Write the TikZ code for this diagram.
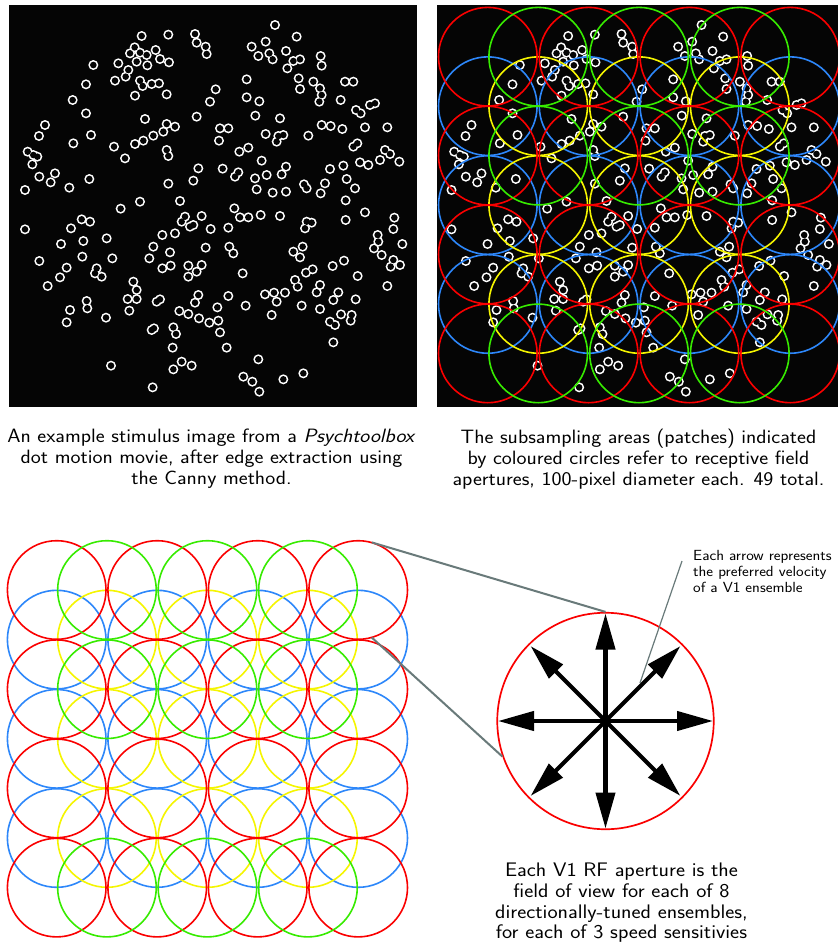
\documentclass[tikz,border=0pt]{standalone}
\usepackage{fontspec}
\setsansfont{Latin Modern Sans}[FakeStretch=1.1]
\usetikzlibrary{arrows.meta,calc}
\definecolor{rfred}{RGB}{250,0,0}
\definecolor{rfgreen}{RGB}{55,235,0}
\definecolor{rfblue}{RGB}{45,135,250}
\definecolor{rfyellow}{RGB}{245,245,0}
\definecolor{linkgray}{RGB}{105,122,122}
\definecolor{panelbg}{RGB}{5,5,5}
\newlength\notewd
\newcommand\notesize{14}
\AtBeginDocument{%
  \settowidth\notewd{\fontsize{14}{16}\selectfont\sffamily Each arrow represents}%
  \pgfmathsetmacro\notesizetmp{14*144/\notewd}%
  \xdef\notesize{\notesizetmp}}
\newcommand\dotlist{825/75, 425/108, 505/104, 585/102, 590/128, 617/140, 620/162, 890/110, 797/125, 755/140, 775/168, 808/160, 818/178, 858/153, 880/183, 900/178, 862/205, 962/168, 965/197, 404/142, 390/160, 420/158, 440/165, 467/150, 480/177, 507/187, 355/190, 410/185, 442/196, 280/195, 385/210, 377/230, 345/242, 420/242, 428/258, 455/252, 477/250, 500/283, 405/287, 258/253, 740/238, 896/235, 900/267, 940/245, 960/265, 965/285, 958/305, 1035/245, 1060/245, 647/268, 630/305, 740/292, 778/304, 218/300, 1022/300, 1068/330, 1082/340, 1110/315, 1125/310, 258/340, 590/350, 766/347, 840/355, 435/357, 135/375, 117/408, 965/375, 992/378, 1027/387, 1095/382, 1162/382, 660/385, 685/385, 657/422, 500/372, 525/380, 490/395, 460/407, 430/422, 405/432, 273/405, 220/430, 797/402, 835/408, 850/405, 830/425, 925/407, 342/440, 375/475, 83/455, 100/465, 112/470, 97/493, 1060/440, 1072/430, 718/455, 745/443, 500/450, 505/468, 1155/450, 1170/462, 1140/480, 1198/485, 1080/487, 1105/495, 785/482, 595/505, 668/506, 715/517, 705/530, 858/500, 845/523, 990/507, 1030/497, 1040/537, 118/530, 165/520, 152/547, 268/537, 208/563, 75/570, 505/551, 580/542, 765/535, 800/525, 770/568, 818/578, 858/575, 912/553, 920/565, 975/550, 962/580, 1065/565, 1037/601, 540/603, 420/605, 362/626, 703/625, 720/652, 745/652, 782/645, 840/648, 605/648, 555/650, 545/665, 570/680, 580/675, 632/687, 685/683, 1095/637, 1037/660, 1183/653, 1180/687, 245/658, 270/665, 213/685, 75/688, 920/665, 935/668, 915/685, 487/705, 525/700, 320/715, 183/732, 250/723, 1133/705, 1135/725, 1122/745, 1145/765, 1207/732, 460/740, 448/775, 510/757, 617/743, 688/740, 700/760, 908/740, 880/755, 900/772, 118/783, 247/770, 337/775, 1180/780, 1200/795, 1172/800, 200/803, 180/832, 285/820, 305/830, 290/805, 487/805, 512/797, 565/797, 605/795, 590/815, 565/830, 728/820, 998/798, 1032/782, 1073/828, 918/818, 938/808, 885/840, 893/860, 960/855, 950/877, 1015/877, 1000/900, 1162/858, 143/858, 400/845, 410/870, 383/897, 410/897, 388/932, 260/903, 262/925, 480/898, 470/905, 595/885, 585/908, 685/888, 795/883, 822/878, 855/878, 830/905, 1067/898, 905/917, 960/927, 210/930, 200/967, 318/953, 737/917, 652/922, 538/933, 565/942, 597/955, 628/968, 655/962, 660/997, 815/945, 990/965, 1005/975, 1023/943, 1055/945, 1052/962, 455/990, 462/985, 520/982, 528/1002, 518/1043, 680/1043, 1000/1027, 333/1097, 545/1085, 575/1097, 520/1108, 775/1078, 730/1130, 757/1145, 778/1175, 850/1138, 910/1120, 458/1162}
\newcommand\drawdots[2]{%
  \foreach \dx/\dy in \dotlist {\fill[white] ({#1+\dx/3},{#2+\dy/3}) circle[radius=5pt];}
  \foreach \dx/\dy in \dotlist {\fill[panelbg] ({#1+\dx/3},{#2+\dy/3}) circle[radius=3.3pt];}
}
\newcommand\rfgrid[4]{%
  \foreach \j in {1,3,5} {\foreach \i in {0,...,3} {\draw[rfline,rfblue] ({#1+\i*#3},{#2+\j*#4}) circle[radius=49.3pt];}}
  \foreach \j in {1,3,5} {\foreach \i in {0,1,2} {\draw[rfline,rfyellow] ({#1+(\i+0.5)*#3},{#2+\j*#4}) circle[radius=49.3pt];}}
  \foreach \j in {0,2,4,6} {\foreach \i in {0,...,3} {\draw[rfline,rfred] ({#1+\i*#3},{#2+\j*#4}) circle[radius=49.3pt];}}
  \foreach \j in {0,2,6} {\foreach \i in {0,1,2} {\draw[rfline,rfgreen] ({#1+(\i+0.5)*#3},{#2+\j*#4}) circle[radius=49.3pt];}}
}
\tikzset{
  rfline/.style={line width=1.6pt},
  caption/.style={font=\fontsize{19.3}{21}\selectfont\sffamily, align=center, inner sep=0pt},
  bcaption/.style={font=\fontsize{19.6}{20.7}\selectfont\sffamily, align=center, inner sep=0pt},
  smallnote/.style={font=\fontsize{\notesize}{16}\selectfont\sffamily, align=left, inner sep=0pt},
  link/.style={draw=linkgray, line width=2pt},
  thinlink/.style={draw=linkgray, line width=1.2pt},
  vel/.style={line width=4.2pt, -{Triangle[length=36pt,width=19pt]}},
}
\begin{document}
\begin{tikzpicture}[x=1pt,y=-1pt]
\useasboundingbox (0,0) rectangle (838,943);
\fill[white] (0,0) rectangle (838,943);
% top-left stimulus panel
\fill[panelbg] (9,5) rectangle (417,407);
\drawdots{0}{0}
% top-right panel with patches
\begin{scope}
\clip (437,5) rectangle (838,407);
\fill[panelbg] (437,5) rectangle (838,407);
\drawdots{426.5}{0}
\rfgrid{487.8}{56.7}{100.8}{49.45}
\end{scope}
% captions
\node[caption, anchor=north] (capL) at (211.5,429) {An example stimulus image from a \textit{Psychtoolbox}\\dot motion movie, after edge extraction using\\the Canny method.};
\node[caption, anchor=north] (capR) at (638.5,429) {The subsampling areas (patches) indicated\\by coloured circles refer to receptive field\\apertures, 100-pixel diameter each. 49 total.};
% bottom-left grid
\rfgrid{56.7}{590}{100.5}{49.6}
\node[circle, minimum size=98.6pt, inner sep=0pt] (rf) at (358.2,590) {};
% big aperture
\node[circle, draw=rfred, line width=1.7pt, minimum size=216.5pt, inner sep=0pt] (big) at (605.5,721) {};
\draw[link] (rf.74) -- (big.north);
\draw[link] (rf.-74) -- (big.199);
\foreach \a/\r in {0/107.5, 45/106, 90/107.5, 135/106, 180/107.5, 225/106, 270/107.5, 315/106}
  {\draw[vel] (big.center) -- ($(big.center)+(\a:\r pt)$);}
\coordinate (annA) at (682,561);
\coordinate (annB) at (640,683);
\draw[thinlink] (annA) -- (annB);
\node[smallnote, anchor=north west] (ann) at (693,550) {Each arrow represents\\the preferred velocity\\of a V1 ensemble};
\node[bcaption, anchor=north] (capB) at (621.5,863) {Each V1 RF aperture is the\\field of view for each of 8\\directionally-tuned ensembles,\\for each of 3 speed sensitivies};
\end{tikzpicture}
\end{document}
